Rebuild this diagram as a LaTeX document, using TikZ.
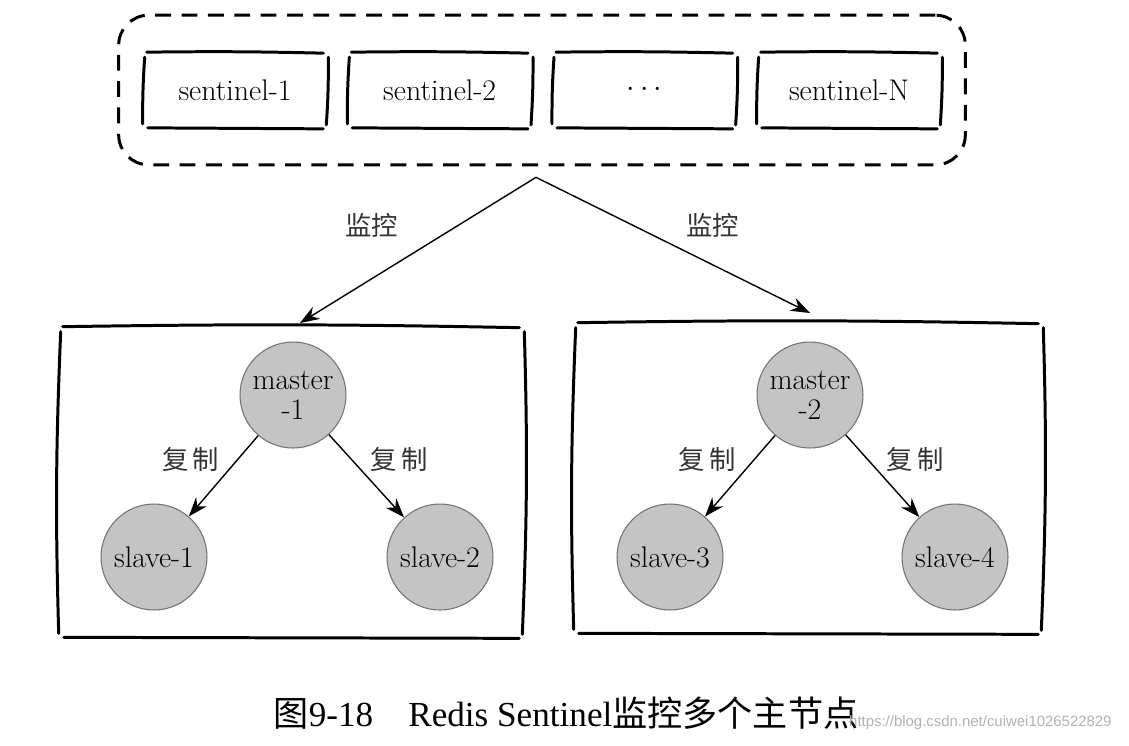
\documentclass[tikz,border=0pt]{standalone}
\usepackage{fontspec}
\newfontfamily\cjk{Noto Sans CJK SC}
\newfontfamily\capfont{Liberation Serif}
\newfontfamily\markfont{Liberation Sans}
\usetikzlibrary{arrows.meta,calc,positioning,fit}
\tikzset{
  sketch/.style={line width=1.7pt,line cap=round},
  sentinel/.style={minimum width=3.6cm,minimum height=1.5cm,inner sep=0pt,font=\fontsize{17}{19}\selectfont},
  redis/.style={circle,draw=black!55,fill=black!23,line width=0.6pt,minimum size=2.12cm,inner sep=0pt,align=center,font=\fontsize{17}{17}\selectfont},
  watch/.style={line width=0.8pt,-{Stealth[length=11pt,width=8pt]}},
  lbl/.style={font=\cjk\fontsize{15}{15}\selectfont,text=black!80,inner sep=2pt}
}
\newcommand\sketchbox[1]{%
  \draw[sketch] ($(#1.north west)+(2,0)$) to[bend left=1] ($(#1.north east)+(-2,1)$);
  \draw[sketch] ($(#1.north east)+(3,5)$) to[bend left=2] ($(#1.south east)+(1,-3)$);
  \draw[sketch] ($(#1.south east)+(-2,1)$) -- ($(#1.south west)+(3,0)$);
  \draw[sketch] ($(#1.south west)+(-2,-4)$) to[bend left=2] ($(#1.north west)+(0,5)$);
}

\begin{document}
\begin{tikzpicture}[x=0.02cm,y=-0.02cm]
  \useasboundingbox (0,0) rectangle (1129,745);
  % sentinels
  \node[sentinel] (s1) at (235,90) {sentinel-1};
  \node[sentinel,right=0.48cm of s1] (s2) {sentinel-2};
  \node[sentinel,right=0.48cm of s2] (s3) {$\cdots$};
  \node[sentinel,right=0.48cm of s3] (sN) {sentinel-N};
  \foreach \s in {s1,s2,s3,sN} {
    \sketchbox{\s}
  }
  \node[fit=(s1)(sN),inner xsep=0.52cm,inner ysep=0.74cm,draw,line width=1.7pt,
        dash pattern=on 9pt off 6pt,rounded corners=0.6cm] (pool) {};
  \coordinate (hub) at ($(pool.south)+(-6,11)$);

  % two groups
  \node[minimum width=9.2cm,minimum height=6.2cm] (grpL) at (291,482) {};
  \node[minimum width=9.28cm,minimum height=6.2cm] (grpR) at (808,478) {};
  \sketchbox{grpL}
  \sketchbox{grpR}
  \coordinate (inL) at (300,323);
  \coordinate (inR) at (810,313);
  \draw[watch] (hub) -- node[lbl,above left=5pt and 9pt] {监控} (inL);
  \draw[watch] (hub) -- node[lbl,above right=2pt and 5pt] {监控} (inR);

  \node[redis] (m1) at (293,395) {master\\-1};
  \node[redis] (sl1) at (154,557) {slave-1};
  \node[redis] (sl2) at (440,557) {slave-2};
  \node[redis] (m2) at (810,395) {master\\-2};
  \node[redis] (sl3) at (670,557) {slave-3};
  \node[redis] (sl4) at (955,557) {slave-4};
  \draw[watch] (m1) -- node[lbl,above left] {复\,制} (sl1);
  \draw[watch] (m1) -- node[lbl,above right] {复\,制} (sl2);
  \draw[watch] (m2) -- node[lbl,above left] {复\,制} (sl3);
  \draw[watch] (m2) -- node[lbl,above right] {复\,制} (sl4);

  % caption
  \node (caption) at (566,713) {\capfont\fontsize{20}{24}\selectfont{\cjk 图}9-18\quad Redis Sentinel{\cjk 监控多个主节点}};
  \node[anchor=west,text=black!30,font=\markfont\fontsize{8.5}{10}\selectfont] (mark) at (843,723) {https://blog.csdn.net/cuiwei1026522829};
\end{tikzpicture}
\end{document}
